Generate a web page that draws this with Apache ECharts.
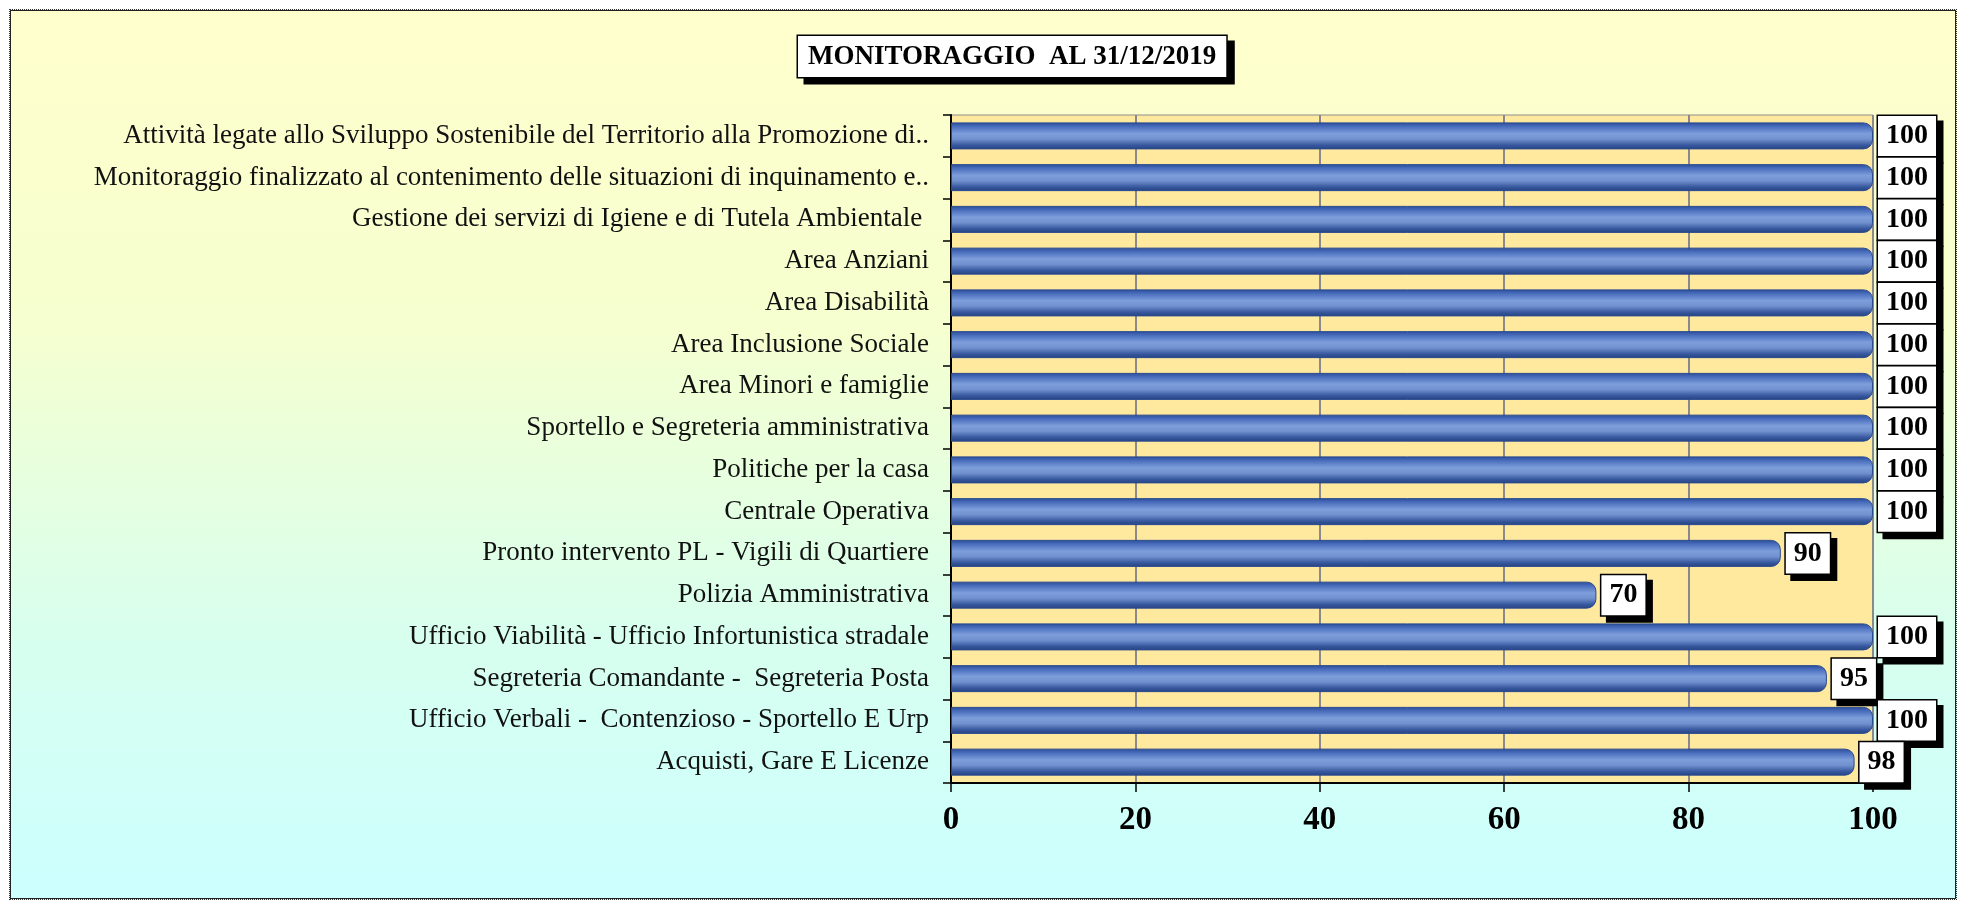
<!DOCTYPE html>
<html>
<head>
<meta charset="utf-8">
<script src="https://cdn.jsdelivr.net/npm/echarts@6/dist/echarts.min.js"></script>
<style>
    html, body {
        margin: 0;
        padding: 0;
        width: 1961px;
        height: 903px;
        background: #ffffff;
        overflow: hidden;
    }
    .frame {
        position: absolute;
        left: 9px;
        top: 9px;
        width: 1946px;
        height: 889px;
        border: 1px dotted #333;
        box-shadow: inset 0 0 0 1px #222;
        background: linear-gradient(to bottom, #ffffcc 0%, #f6ffcf 35%, #d8ffee 70%, #ccffff 100%);
    }
    .chart {
        position: absolute;
        left: 0;
        top: 0;
        width: 1961px;
        height: 903px;
    }
</style>
</head>
<body>
<div class="frame"></div>
<div class="chart" id="chart"></div>
<script>
const titleText = 'MONITORAGGIO  AL 31/12/2019';

const categories = [
    'Attività legate allo Sviluppo Sostenibile del Territorio alla Promozione di..',
    'Monitoraggio finalizzato al contenimento delle situazioni di inquinamento e..',
    'Gestione dei servizi di Igiene e di Tutela Ambientale ',
    'Area Anziani',
    'Area Disabilità',
    'Area Inclusione Sociale',
    'Area Minori e famiglie',
    'Sportello e Segreteria amministrativa',
    'Politiche per la casa',
    'Centrale Operativa',
    'Pronto intervento PL - Vigili di Quartiere',
    'Polizia Amministrativa',
    'Ufficio Viabilità - Ufficio Infortunistica stradale',
    'Segreteria Comandante -  Segreteria Posta',
    'Ufficio Verbali -  Contenzioso - Sportello E Urp',
    'Acquisti, Gare E Licenze'
];

const values = [100, 100, 100, 100, 100, 100, 100, 100, 100, 100, 90, 70, 100, 95, 100, 98];

const xTicks = [0, 20, 40, 60, 80, 100];

const serif = '"Liberation Serif", "Times New Roman", serif';

const barChart = echarts.init(document.getElementById('chart'));

const barGradient = new echarts.graphic.LinearGradient(0, 0, 0, 1, [
    { offset: 0, color: '#2a4c98' },
    { offset: 0.16, color: '#4a6ebd' },
    { offset: 0.42, color: '#7e9edb' },
    { offset: 0.62, color: '#7090ce' },
    { offset: 0.85, color: '#37579e' },
    { offset: 1, color: '#264380' }
]);

const chartOption = {
    backgroundColor: 'transparent',
    title: {
        text: '{box|' + titleText + '}',
        left: 798,
        top: 36,
        padding: 0,
        textStyle: {
            rich: {
                box: {
                    fontFamily: serif,
                    fontWeight: 'bold',
                    fontSize: 27,
                    color: '#000',
                    backgroundColor: '#ffffff',
                    borderColor: '#000',
                    borderWidth: 1.5,
                    padding: [8, 10, 6, 10],
                    shadowColor: '#000',
                    shadowOffsetX: 7,
                    shadowOffsetY: 6
                }
            }
        }
    },
    grid: {
        left: 951,
        right: 88,
        top: 115,
        bottom: 120,
        show: true,
        backgroundColor: '#ffe99f',
        borderColor: '#8c8c8c',
        borderWidth: 1
    },
    xAxis: {
        type: 'value',
        min: 0,
        max: 100,
        interval: 20,
        axisLine: { show: true, lineStyle: { color: '#000', width: 2 } },
        axisTick: { show: true, length: 9, lineStyle: { color: '#000', width: 1.5 } },
        splitLine: { show: true, lineStyle: { color: '#8a8a8a', width: 2 } },
        axisLabel: {
            margin: 21,
            fontFamily: serif,
            fontWeight: 'bold',
            fontSize: 33,
            color: '#000',
            formatter: (v) => xTicks.includes(v) ? String(v) : ''
        }
    },
    yAxis: {
        type: 'category',
        inverse: true,
        data: categories,
        axisLine: { show: true, lineStyle: { color: '#000', width: 2 } },
        axisTick: { show: true, length: 8, lineStyle: { color: '#000', width: 1.5 } },
        splitLine: { show: false },
        axisLabel: {
            interval: 0,
            margin: 22,
            fontFamily: serif,
            fontSize: 27,
            color: '#111'
        }
    },
    series: [
        {
            type: 'bar',
            data: values,
            barWidth: 27,
            itemStyle: {
                color: barGradient,
                borderColor: '#2a4a90',
                borderWidth: 1,
                borderRadius: [0, 9, 9, 0]
            },
            label: {
                show: true,
                position: 'right',
                distance: 5,
                fontFamily: serif,
                fontWeight: 'bold',
                fontSize: 28,
                color: '#000',
                backgroundColor: '#ffffff',
                borderColor: '#000',
                borderWidth: 1.5,
                padding: [7, 8, 5, 8],
                shadowColor: '#000',
                shadowOffsetX: 6,
                shadowOffsetY: 6
            }
        }
    ]
};

barChart.setOption(chartOption);
</script>
</body>
</html>
